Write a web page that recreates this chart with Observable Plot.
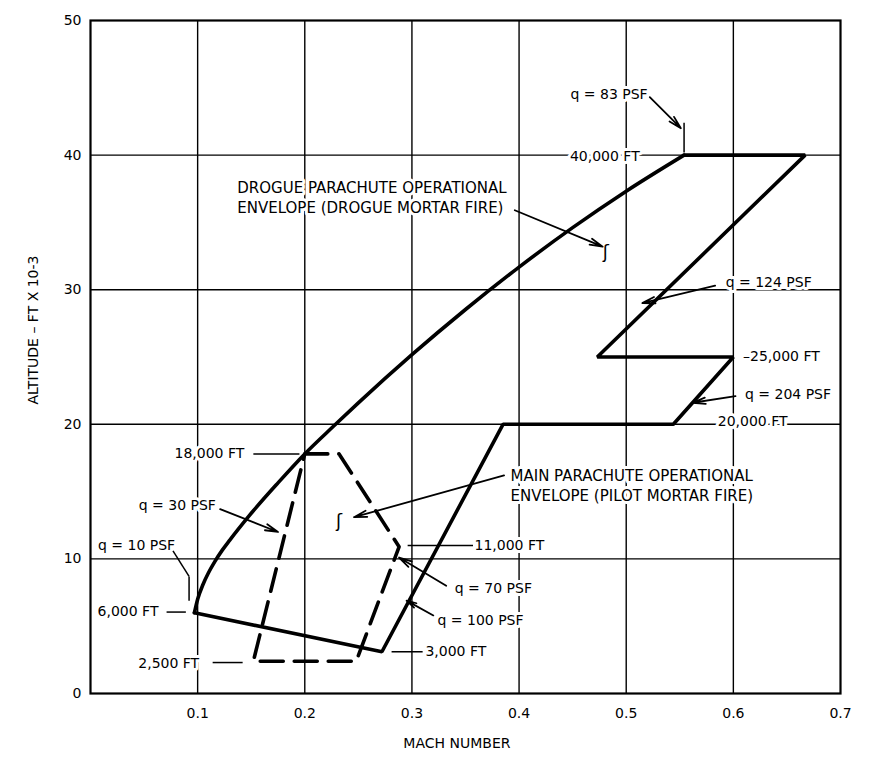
<!DOCTYPE html>
<html><head><meta charset="utf-8">
<script src="https://cdn.jsdelivr.net/npm/d3@7"></script>
<script src="https://cdn.jsdelivr.net/npm/@observablehq/plot@0.6"></script>
<style>body{margin:0;background:#fff}</style>
</head><body><div id="chart"></div>
<script>
// Axis ticks and grid
const xTicks = [0.1, 0.2, 0.3, 0.4, 0.5, 0.6, 0.7];
const yTicks = [0, 10, 20, 30, 40, 50];
const gridX = [0.1, 0.2, 0.3, 0.4, 0.5, 0.6];
const gridY = [10, 20, 30, 40];

// Drogue parachute envelope: curved low-q boundary
const drogueCurveMach = [0.097, 0.100, 0.105, 0.110, 0.116, 0.123, 0.130, 0.148, 0.175, 0.200, 0.227, 0.250, 0.300, 0.350, 0.400, 0.450, 0.500, 0.554];
const drogueCurveAlt  = [6.0, 7.0, 8.1, 8.95, 9.8, 10.65, 11.4, 13.2, 15.65, 17.8, 19.87, 21.59, 25.17, 28.53, 31.68, 34.61, 37.32, 40.0];
// Drogue parachute envelope: remaining boundary
const drogueEdgeMach = [0.554, 0.667, 0.473, 0.600, 0.544, 0.385, 0.272, 0.097];
const drogueEdgeAlt  = [40.0, 40.0, 25.0, 25.0, 20.0, 20.0, 3.1, 6.0];

// Main parachute envelope (dashed)
const mainMach = [0.200, 0.232, 0.288, 0.248, 0.152, 0.200];
const mainAlt  = [17.8, 17.8, 10.9, 2.4, 2.4, 17.8];

// Point labels
const labelText = ["q = 83 PSF", "40,000 FT", "q = 124 PSF", "20,000 FT", "q = 204 PSF",
  "18,000 FT", "q = 30 PSF", "q = 10 PSF", "6,000 FT", "2,500 FT", "3,000 FT",
  "q = 100 PSF", "q = 70 PSF", "11,000 FT"];
const labelMach = [0.484, 0.480, 0.633, 0.618, 0.651, 0.111, 0.081, 0.043, 0.035, 0.073, 0.341, 0.364, 0.376, 0.391];
const labelAlt  = [44.5, 39.9, 30.5, 20.2, 22.2, 17.8, 14.0, 11.0, 6.1, 2.2, 3.1, 5.4, 7.8, 11.0];

// Start-anchored labels
const leftText = ["–25,000 FT"];
const leftMach = [0.609];
const leftAlt  = [25.0];

// Envelope titles
const titleText = ["DROGUE PARACHUTE OPERATIONAL\nENVELOPE (DROGUE MORTAR FIRE)",
  "MAIN PARACHUTE OPERATIONAL\nENVELOPE (PILOT MORTAR FIRE)"];
const titleMach = [0.137, 0.392];
const titleAlt  = [36.9, 15.5];

// Arrows
const arrowMach1 = [0.522, 0.583, 0.602, 0.121, 0.320, 0.332, 0.396, 0.386];
const arrowAlt1  = [44.3, 30.3, 22.1, 13.7, 5.8, 8.0, 35.9, 16.2];
const arrowMach2 = [0.551, 0.515, 0.562, 0.175, 0.295, 0.288, 0.478, 0.246];
const arrowAlt2  = [42.0, 29.0, 21.6, 12.0, 6.9, 10.1, 33.2, 13.1];

// Plain leader lines
const leaderMach1 = [0.554, 0.152, 0.077, 0.092, 0.071, 0.114, 0.281, 0.296];
const leaderAlt1  = [40.2, 17.8, 10.6, 8.7, 6.05, 2.3, 3.1, 11.0];
const leaderMach2 = [0.554, 0.195, 0.092, 0.092, 0.089, 0.142, 0.310, 0.357];
const leaderAlt2  = [42.4, 17.8, 8.7, 6.9, 6.05, 2.3, 3.1, 11.0];

// Hook symbols at arrow tips
const hookMach = [0.481, 0.232];
const hookAlt  = [32.8, 12.8];

const pts = (xs, ys) => xs.map((x, i) => ({x, y: ys[i]}));
const labels = labelText.map((t, i) => ({t, x: labelMach[i], y: labelAlt[i]}));
const lefts = leftText.map((t, i) => ({t, x: leftMach[i], y: leftAlt[i]}));
const titles = titleText.map((t, i) => ({t, x: titleMach[i], y: titleAlt[i]}));
const arrows = arrowMach1.map((x1, i) => ({x1, y1: arrowAlt1[i], x2: arrowMach2[i], y2: arrowAlt2[i]}));
const leaders = leaderMach1.map((x1, i) => ({x1, y1: leaderAlt1[i], x2: leaderMach2[i], y2: leaderAlt2[i]}));

const halo = {fill: "black", stroke: "white", strokeWidth: 6};

const chart = Plot.plot({
  width: 873,
  height: 759,
  marginLeft: 90,
  marginRight: 33,
  marginTop: 20,
  marginBottom: 66,
  style: {fontFamily: "DejaVu Sans", fontSize: "14px", color: "black", background: "white"},
  x: {domain: [0, 0.7]},
  y: {domain: [0, 50]},
  marks: [
    Plot.ruleX(gridX, {stroke: "black", strokeWidth: 1.4}),
    Plot.ruleY(gridY, {stroke: "black", strokeWidth: 1.4}),
    Plot.frame({stroke: "black", strokeWidth: 2.2}),
    Plot.axisX(xTicks, {tickSize: 0, tickPadding: 15, tickFormat: d3.format(".1f"), fontSize: 14, label: null}),
    Plot.axisY(yTicks, {tickSize: 0, tickPadding: 9, fontSize: 14, label: null}),
    Plot.line(pts(drogueCurveMach, drogueCurveAlt), {x: "x", y: "y", curve: "monotone-x", stroke: "black", strokeWidth: 3.6}),
    Plot.line(pts(drogueEdgeMach, drogueEdgeAlt), {x: "x", y: "y", stroke: "black", strokeWidth: 3.6, strokeLinejoin: "miter"}),
    Plot.line(pts(mainMach, mainAlt), {x: "x", y: "y", stroke: "black", strokeWidth: 3.6, strokeDasharray: "23 11"}),
    Plot.text(labels, {x: "x", y: "y", text: "t", fontSize: 14, ...halo}),
    Plot.text(lefts, {x: "x", y: "y", text: "t", textAnchor: "start", fontSize: 14, ...halo}),
    Plot.text(titles, {x: "x", y: "y", text: "t", textAnchor: "start", lineHeight: 1.33, fontSize: 15, ...halo}),
    Plot.link(leaders, {x1: "x1", y1: "y1", x2: "x2", y2: "y2", stroke: "black", strokeWidth: 1.5}),
    Plot.arrow(arrows, {x1: "x1", y1: "y1", x2: "x2", y2: "y2", stroke: "black", strokeWidth: 1.8, headLength: 11, headAngle: 28}),
    Plot.text(pts(hookMach, hookAlt), {x: "x", y: "y", text: () => "ʃ", fontSize: 18, fill: "black"}),
    Plot.text(["MACH NUMBER"], {x: () => 0.342, frameAnchor: "bottom", dy: 54, text: d => d, fontSize: 14}),
    Plot.text(["ALTITUDE – FT X 10-3"], {y: () => 27.0, frameAnchor: "left", textAnchor: "middle", dx: -57, rotate: -90, text: d => d, fontSize: 14})
  ]
});
document.getElementById("chart").appendChild(chart);
</script>
</body></html>
